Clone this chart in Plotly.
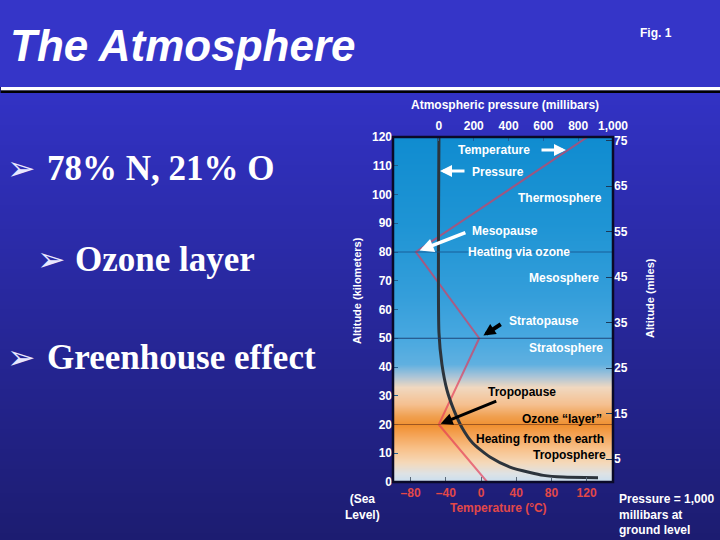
import plotly.graph_objects as go

# ---------------- data ----------------
TEMP_ALT_KM = [0, 20, 50, 80, 120]
TEMP_C = [7, -48, -2, -74, 121]

PRES_ALT_KM = [1.5, 1.7, 2.3, 3.3, 5.2, 8.7, 13.5, 19, 25, 32, 41, 52, 120]
PRES_MB = [914, 713, 600, 523, 408, 293, 195, 132, 86, 46, 17, 0, 0]

TEMP_TICKS = [-80, -40, 0, 40, 80, 120]
TEMP_TICK_LABELS = ["\u201380", "\u201340", "0", "40", "80", "120"]
PRES_TICKS = [0, 200, 400, 600, 800, 1000]
PRES_TICK_LABELS = ["0", "200", "400", "600", "800", "1,000"]
KM_TICKS = [0, 10, 20, 30, 40, 50, 60, 70, 80, 90, 100, 110, 120]
MILE_TICKS = [5, 15, 25, 35, 45, 55, 65, 75]

LAYER_LINES_KM = [80, 50, 20]

BULLETS = ["78% N, 21% O", "Ozone layer", "Greenhouse effect"]

W, H = 720, 540
def PX(x): return x / W
def PY(y): return 1 - y / H

def lerp_color(stops, v):
    for (a, ca), (b, cb) in zip(stops, stops[1:]):
        if a <= v <= b:
            t = (v - a) / (b - a) if b != a else 0
            c = [round(ca[i] + (cb[i] - ca[i]) * t) for i in range(3)]
            return f"rgb({c[0]},{c[1]},{c[2]})"
    c = stops[-1][1]
    return f"rgb({c[0]},{c[1]},{c[2]})"

shapes = []
# slide background
shapes.append(dict(type="rect", xref="paper", yref="paper", x0=0, x1=1, y0=PY(87), y1=1,
                   fillcolor="rgb(53,53,200)", line_width=0, layer="below"))
slide_stops = [(93, (50, 50, 196)), (540, (28, 28, 112))]
step = 4
for y in range(93, 540, step):
    shapes.append(dict(type="rect", xref="paper", yref="paper", x0=0, x1=1,
                       y0=PY(min(y + step + 1, 540)), y1=PY(y),
                       fillcolor=lerp_color(slide_stops, y), line_width=0, layer="below"))
shapes.append(dict(type="rect", xref="paper", yref="paper", x0=PX(1), x1=1, y0=PY(90.5), y1=PY(87),
                   fillcolor="white", line_width=0, layer="below"))
shapes.append(dict(type="rect", xref="paper", yref="paper", x0=PX(1), x1=1, y0=PY(93), y1=PY(90.5),
                   fillcolor="black", line_width=0, layer="below"))

# plot-area gradient stops (altitude km -> colour), drawn as a smooth background image
plot_stops = [
    (0, (200, 222, 240)), (3, (222, 226, 228)), (7, (245, 216, 184)), (12, (248, 192, 136)),
    (17, (244, 160, 80)), (20, (240, 144, 48)), (23, (240, 160, 80)), (27, (245, 192, 144)),
    (33, (240, 216, 192)), (37, (170, 196, 215)), (41, (96, 176, 224)), (50, (72, 168, 224)),
    (65, (52, 158, 218)), (90, (30, 148, 212)), (120, (16, 140, 208)),
]
bg_scale = [[a / 120, f"rgb({c[0]},{c[1]},{c[2]})"] for a, c in plot_stops]
bg_y = [a for a, _ in plot_stops]

layer_colors = {80: "rgba(20,80,140,0.8)", 50: "rgba(25,60,110,0.9)", 20: "rgba(150,80,30,0.9)"}
for a in LAYER_LINES_KM:
    shapes.append(dict(type="line", xref="x domain", yref="y", x0=0, x1=1, y0=a, y1=a,
                       line=dict(color=layer_colors[a], width=1), layer="above"))

# plot frame
shapes.append(dict(type="rect", xref="x domain", yref="y domain", x0=0, x1=1, y0=0, y1=1,
                   line=dict(color="#0a0a28", width=2.5), fillcolor="rgba(0,0,0,0)", layer="above"))

fig = go.Figure()
fig.add_trace(go.Heatmap(x=[-100, 150], y=bg_y, z=[[a, a] for a in bg_y], zmin=0, zmax=120,
                         colorscale=bg_scale, zsmooth="best", showscale=False, hoverinfo="skip",
                         xaxis="x", yaxis="y"))
fig.add_trace(go.Scatter(x=PRES_MB, y=PRES_ALT_KM, xaxis="x2", yaxis="y", mode="lines",
                         line=dict(color="#2c343c", width=3, shape="spline", smoothing=0.6),
                         hoverinfo="skip"))
fig.add_trace(go.Scatter(x=TEMP_C, y=TEMP_ALT_KM, xaxis="x", yaxis="y", mode="lines",
                         line=dict(color="rgba(228,56,86,0.66)", width=2), hoverinfo="skip"))
# invisible trace to activate the miles axis
fig.add_trace(go.Scatter(x=[None], y=[None], xaxis="x", yaxis="y2", mode="lines", hoverinfo="skip"))

FONT = "Liberation Sans, Arial, sans-serif"
tickfont_w = dict(family=FONT, size=12, color="white", weight="bold")

fig.update_layout(
    width=W, height=H, margin=dict(l=0, r=0, t=0, b=0),
    paper_bgcolor="rgb(28,28,112)", plot_bgcolor="rgba(0,0,0,0)",
    showlegend=False, shapes=shapes,
    xaxis=dict(domain=[PX(393), PX(613)], range=[-100, 150], anchor="y",
               tickvals=TEMP_TICKS, ticktext=TEMP_TICK_LABELS, ticks="inside", ticklen=5,
               tickcolor="#5a6a7a", tickwidth=1, showgrid=False, zeroline=False, showline=False,
               tickfont=dict(family=FONT, size=12, color="#e24848", weight="bold"),
               automargin=False, ticklabelstandoff=2),
    xaxis2=dict(overlaying="x", side="top", range=[-264, 1000], anchor="y",
                tickvals=PRES_TICKS, ticktext=PRES_TICK_LABELS, ticks="inside", ticklen=4,
                tickcolor="#2060a0", showgrid=False, zeroline=False, showline=False,
                tickfont=tickfont_w, automargin=False, ticklabelstandoff=4),
    yaxis=dict(domain=[PY(482), PY(137)], range=[0, 120], anchor="x",
               tickvals=KM_TICKS, ticks="inside", ticklen=5, tickcolor="#1f5f8f",
               showgrid=False, zeroline=False, showline=False, tickfont=tickfont_w, automargin=False),
    yaxis2=dict(overlaying="y", side="right", range=[0, 75.8], anchor="x",
                tickvals=MILE_TICKS, ticks="inside", ticklen=7, tickcolor="#1a3a5a",
                showgrid=False, zeroline=False, showline=False, tickfont=tickfont_w, automargin=False),
)

ann = []
def text(x, y, s, size=12, color="white", xanchor="center", angle=0, family=FONT, align="center"):
    ann.append(dict(x=PX(x), y=PY(y), xref="paper", yref="paper", text=s, showarrow=False,
                    xanchor=xanchor, yanchor="middle", textangle=angle, align=align,
                    font=dict(family=family, size=size, color=color)))

# header
text(8, 46, "<b><i>The Atmosphere</i></b>", size=44, xanchor="left")
text(656, 33, "<b>Fig. 1</b>", size=12)

# bullets
SERIF = "Liberation Serif, Times New Roman, serif"
bullet_pos = [(21, 45, 168), (51, 73, 259), (21, 45, 357)]
for (gx, tx, ty), s in zip(bullet_pos, BULLETS):
    text(gx, ty, "\u27a2", size=34, color="#e8e8ff", family="DejaVu Sans")
    text(tx, ty, f"<b>{s}</b>", size=35, xanchor="left", family=SERIF)

# axis titles
text(505, 105, "<b>Atmospheric pressure (millibars)</b>", size=12)
text(357, 291, "<b>Altitude (kilometers)</b>", size=11, angle=-90)
text(650, 298, "<b>Altitude (miles)</b>", size=11, angle=-90)
text(498, 508, "<b>Temperature (°C)</b>", size=12, color="#e24848")
text(362, 507, "<b>(Sea<br>Level)</b>", size=12)
text(617, 514, "<b>Pressure = 1,000<br>millibars at<br>ground level</b>", size=12,
     xanchor="left", align="left")

# labels inside the plot
inner = [
    (494, 150, "Temperature", "white"), (498, 172, "Pressure", "white"),
    (560, 198, "Thermosphere", "white"), (505, 231, "Mesopause", "white"),
    (519, 252, "Heating via ozone", "white"), (564, 278, "Mesosphere", "white"),
    (544, 321, "Stratopause", "white"), (566, 348, "Stratosphere", "white"),
    (522, 392, "Tropopause", "black"), (562, 419, "Ozone \u201clayer\u201d", "black"),
    (540, 439, "Heating from the earth", "black"), (569, 455, "Troposphere", "black"),
]
for x, y, s, c in inner:
    text(x, y, f"<b>{s}</b>", size=12, color=c)

# legend-like arrows
ann.append(dict(x=PX(566), y=PY(150), xref="paper", yref="paper", ax=-26, ay=0, text="",
                showarrow=True, arrowhead=2, arrowsize=0.8, arrowwidth=3, arrowcolor="white"))
ann.append(dict(x=PX(440), y=PY(171), xref="paper", yref="paper", ax=26, ay=0, text="",
                showarrow=True, arrowhead=2, arrowsize=0.8, arrowwidth=3, arrowcolor="white"))

# arrows pointing at temperature-profile vertices
ann.append(dict(x=TEMP_C[3], y=TEMP_ALT_KM[3], xref="x", yref="y", ax=51, ay=-20, text="",
                showarrow=True, arrowhead=2, arrowsize=0.8, arrowwidth=3.5, arrowcolor="white", standoff=4))
ann.append(dict(x=TEMP_C[2], y=TEMP_ALT_KM[2], xref="x", yref="y", ax=23, ay=-15, text="",
                showarrow=True, arrowhead=2, arrowsize=0.6, arrowwidth=4, arrowcolor="black", standoff=5))
ann.append(dict(x=TEMP_C[1], y=TEMP_ALT_KM[1], xref="x", yref="y", ax=59, ay=-24, text="",
                showarrow=True, arrowhead=2, arrowsize=0.8, arrowwidth=3, arrowcolor="black", standoff=2))

fig.update_layout(annotations=ann)
fig.write_html("out.html", config={"displayModeBar": False, "staticPlot": True})

# remove default browser body margin so the 720x540 figure fills the window exactly
with open("out.html", "r", encoding="utf-8") as f:
    html = f.read()
html = html.replace("<body>", '<body style="margin:0;overflow:hidden;">', 1)
with open("out.html", "w", encoding="utf-8") as f:
    f.write(html)
